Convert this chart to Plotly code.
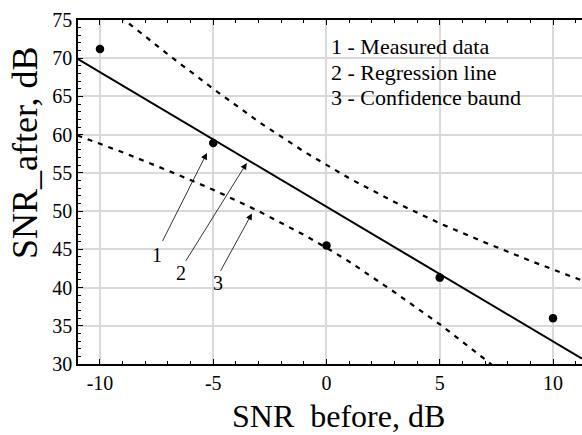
import plotly.graph_objects as go

# Measured data
snr_before = [-10, -5, 0, 5, 10]
snr_after = [71.2, 58.9, 45.5, 41.3, 36.0]

# Regression line (read at plot edges)
reg_x = [-10.97, 11.28]
reg_y = [69.9, 30.7]

# Confidence band
band_x = [-11, -9, -7, -5, -3, -1, 0, 1, 3, 5, 7, 9, 11.3]
band_upper = [79.9, 75.2, 70.5, 66.0, 61.7, 57.8, 56.0, 54.3, 51.2, 48.4, 45.9, 43.5, 40.9]
band_lower = [59.9, 57.7, 55.3, 52.8, 50.0, 46.9, 45.2, 43.4, 39.4, 35.2, 30.6, 26.0, 20.5]

x_tickvals = [-10, -5, 0, 5, 10]
x_ticktext = ["-10", "-5", "0", "5", "10"]
y_tickvals = [30, 35, 40, 45, 50, 55, 60, 65, 70, 75]

legend_lines = ["1 - Measured data", "2 - Regression line", "3 - Confidence baund"]

FONT = "Liberation Serif, Times New Roman, serif"

fig = go.Figure()
dash_style = dict(color="black", width=2.2, dash="5px,6px")
fig.add_trace(go.Scatter(x=band_x, y=band_upper, mode="lines", line=dash_style))
fig.add_trace(go.Scatter(x=band_x, y=band_lower, mode="lines", line=dash_style))
fig.add_trace(go.Scatter(x=reg_x, y=reg_y, mode="lines", line=dict(color="black", width=2)))
fig.add_trace(go.Scatter(x=snr_before, y=snr_after, mode="markers",
                         marker=dict(color="black", size=8.5)))

# Arrows with labels
arrows = [
    # (head_x, head_y, tail_x, tail_y, label, label_x, label_y)
    (-5.28, 57.6, -7.27, 45.9, "1", -7.49, 44.3),
    (-3.52, 56.3, -6.25, 43.3, "2", -6.43, 41.9),
    (-3.29, 49.7, -4.71, 42.0, "3", -4.79, 40.6),
]
for hx, hy, tx, ty, lab, lx, ly in arrows:
    fig.add_annotation(x=hx, y=hy, ax=tx, ay=ty, xref="x", yref="y", axref="x", ayref="y",
                       text="", showarrow=True, arrowhead=2, arrowsize=1.6, arrowwidth=0.8,
                       arrowcolor="black")
    fig.add_annotation(x=lx, y=ly, xref="x", yref="y", text=lab, showarrow=False,
                       font=dict(family=FONT, size=20, color="black"))

legend_y = [71.47, 68.19, 64.92]
for t, ly in zip(legend_lines, legend_y):
    fig.add_annotation(x=0.1, y=ly, xref="x", yref="y", text=t,
                       showarrow=False, xanchor="left", yanchor="middle",
                       font=dict(family=FONT, size=22, color="black"))

# Axis titles as annotations
fig.add_annotation(x=(338 - 78) / 504, y=-(416 - 364) / 344, xref="paper", yref="paper",
                   text="SNR  before, dB", showarrow=False,
                   xanchor="center", yanchor="middle",
                   font=dict(family=FONT, size=32, color="black"))
fig.add_annotation(x=-(78 - 25) / 504, y=(364 - 153) / 344, xref="paper", yref="paper",
                   text="SNR_after, dB", textangle=-90, showarrow=False,
                   xanchor="center", yanchor="middle",
                   font=dict(family=FONT, size=36, color="black"))

fig.update_layout(
    width=582, height=435,
    margin=dict(l=78, r=0, t=20, b=71),
    paper_bgcolor="white", plot_bgcolor="white",
    showlegend=False,
    font=dict(family=FONT, size=20, color="black"),
)
fig.update_xaxes(range=[-10.97, 11.28], tickvals=x_tickvals, ticktext=x_ticktext,
                 showgrid=True, gridcolor="#d9d9d9", gridwidth=1.5,
                 showline=True, linecolor="black", linewidth=1.5, mirror="ticks",
                 ticks="inside", ticklen=5, tickcolor="black", zeroline=False,
                 minor=dict(dtick=1, ticks="inside", ticklen=3, tickcolor="black", showgrid=False),
                 tickfont=dict(family=FONT, size=20))
fig.update_yaxes(range=[30, 75], tickvals=y_tickvals,
                 showgrid=True, gridcolor="#d9d9d9", gridwidth=1.5,
                 showline=True, linecolor="black", linewidth=1.5,
                 ticks="inside", ticklen=5, tickcolor="black", zeroline=False,
                 minor=dict(dtick=1, ticks="inside", ticklen=3, tickcolor="black", showgrid=False),
                 tickfont=dict(family=FONT, size=20))

fig.write_html("out.html", config={"displayModeBar": False},
               post_script="document.body.style.margin='0px';")
